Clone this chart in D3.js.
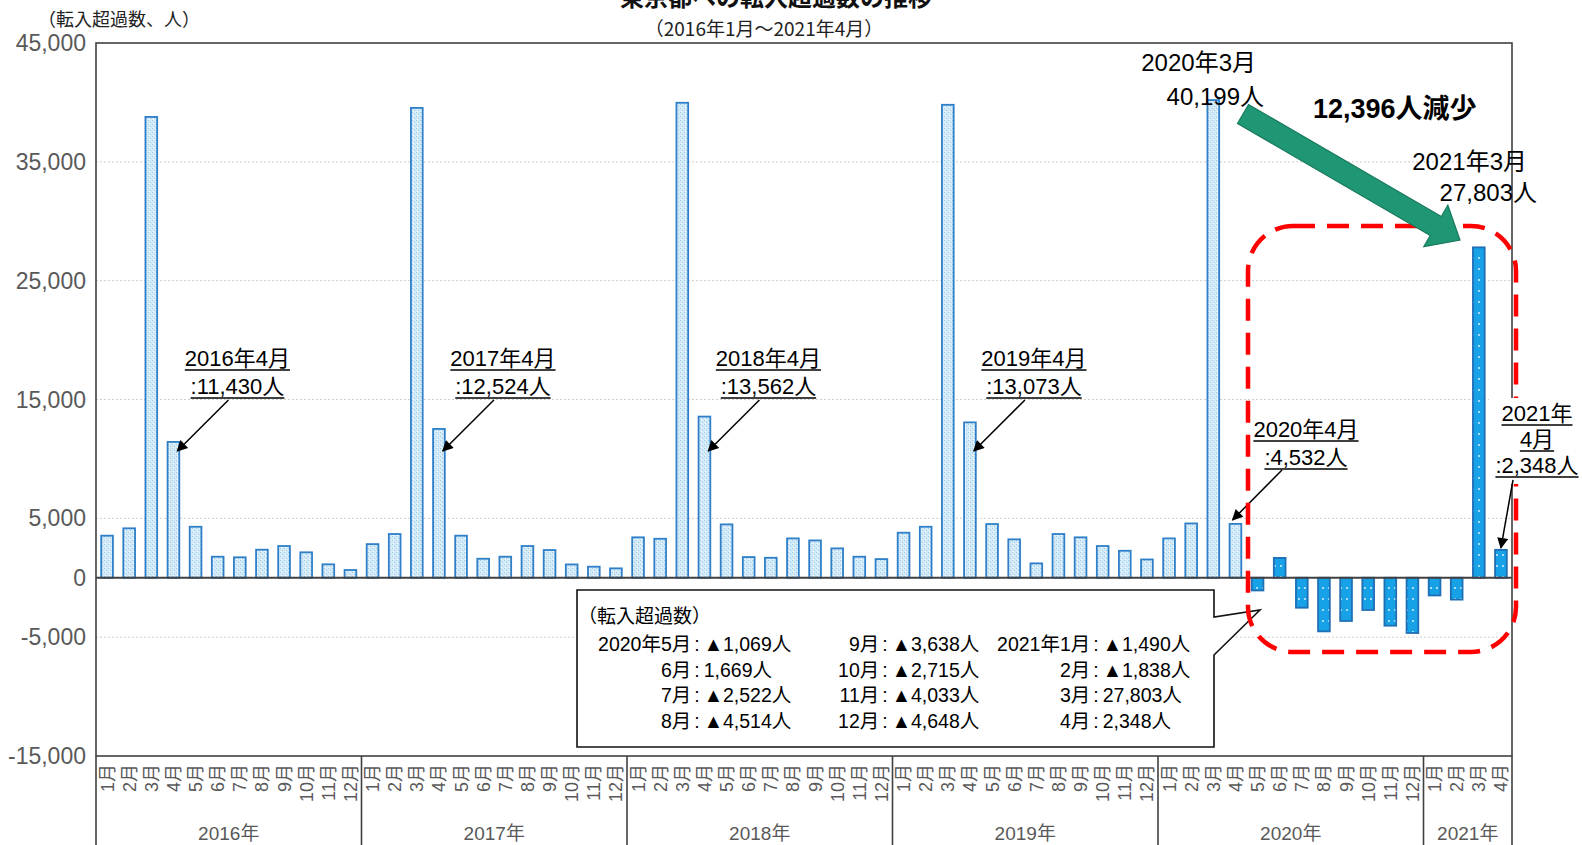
<!DOCTYPE html>
<html><head><meta charset="utf-8">
<script src="https://cdn.jsdelivr.net/npm/d3@7"></script>
<style>
html,body{margin:0;padding:0;background:#fff;}
svg{display:block;}
</style></head><body>
<svg id="chart" width="1582" height="845"></svg>
<script>
// ---------------- DATA ----------------
const years = ["2016年","2017年","2018年","2019年","2020年","2021年"];
const monthsPerYear = [12,12,12,12,12,4];
const monthNames = ["1月","2月","3月","4月","5月","6月","7月","8月","9月","10月","11月","12月"];
const values2016 = [3540, 4160, 38780, 11430, 4290, 1770, 1720, 2360, 2670, 2140, 1130, 650];
const values2017 = [2830, 3680, 39540, 12524, 3540, 1600, 1770, 2670, 2330, 1120, 930, 790];
const values2018 = [3400, 3280, 39970, 13562, 4490, 1740, 1680, 3310, 3140, 2470, 1770, 1570];
const values2019 = [3790, 4290, 39800, 13073, 4520, 3230, 1210, 3680, 3400, 2670, 2270, 1540];
const values2020 = [3310, 4570, 40199, 4532, -1069, 1669, -2522, -4514, -3638, -2715, -4033, -4648];
const values2021 = [-1490, -1838, 27803, 2348];
const yTicks = [45000, 35000, 25000, 15000, 5000, 0, -5000, -15000];
const gridTicks = [35000, 25000, 15000, 5000, -5000];
const aprilNotes = [
  ["2016年4月", ":11,430人"],
  ["2017年4月", ":12,524人"],
  ["2018年4月", ":13,562人"],
  ["2019年4月", ":13,073人"]
];
const legendTitle = "（転入超過数）";
const legendRows = [
  [["2020年5月","▲1,069人"],["9月","▲3,638人"],["2021年1月","▲1,490人"]],
  [["6月","1,669人"],["10月","▲2,715人"],["2月","▲1,838人"]],
  [["7月","▲2,522人"],["11月","▲4,033人"],["3月","27,803人"]],
  [["8月","▲4,514人"],["12月","▲4,648人"],["4月","2,348人"]]
];

// ---------------- BUILD ----------------
const allValues = [values2016, values2017, values2018, values2019, values2020, values2021];
const data = [];
allValues.forEach((arr, yi) => arr.forEach((v, mi) => data.push({idx: data.length, yi, mi, v})));
const highlightStart = 52; // 2020年5月 onwards

const svg = d3.select("#chart");
const W = 1582, H = 845;
const L = 96, R = 1512, T = 43, B = 756;
const fontLat = "'Liberation Sans', 'Noto Sans CJK JP', sans-serif";
const fontJP = "'Noto Sans CJK JP', sans-serif";
const fmt = d3.formatLocale({decimal: ".", thousands: ",", grouping: [3], currency: ["", ""], minus: "-"}).format(",");

const x = d3.scaleBand().domain(data.map(d => d.idx)).range([L, R]).paddingInner(0.47).paddingOuter(0.235);
const edge = d3.scaleLinear().domain([0, data.length]).range([L, R]);
const y = d3.scaleLinear().domain([-15000, 45000]).range([B, T]);

const defs = svg.append("defs");
const pl = defs.append("pattern").attr("id","pLight").attr("patternUnits","userSpaceOnUse").attr("width",4).attr("height",4);
pl.append("rect").attr("width",4).attr("height",4).attr("fill","#d3eaf8");
pl.append("rect").attr("x",0).attr("y",0).attr("width",1).attr("height",1).attr("fill","#9fcbe9");
pl.append("rect").attr("x",2).attr("y",2).attr("width",1).attr("height",1).attr("fill","#9fcbe9");
pl.append("rect").attr("x",1).attr("y",3).attr("width",1).attr("height",1).attr("fill","#ffffff");
const pd = defs.append("pattern").attr("id","pDark").attr("patternUnits","userSpaceOnUse").attr("width",6).attr("height",11);
pd.append("rect").attr("width",6).attr("height",11).attr("fill","#17a1e6");
pd.append("circle").attr("cx",3).attr("cy",5).attr("r",0.9).attr("fill","#e8f6ff");
const mk = defs.append("marker").attr("id","ah").attr("viewBox","0 0 10 10").attr("refX",9).attr("refY",5)
  .attr("orient","auto").attr("markerUnits","userSpaceOnUse")
  .attr("markerWidth",14).attr("markerHeight",11);
mk.append("path").attr("d","M0,0 L10,5 L0,10 z").attr("fill","#000");

// gridlines
svg.append("g").selectAll("line").data(gridTicks).join("line")
  .attr("x1", L).attr("x2", R).attr("y1", d => y(d)).attr("y2", d => y(d))
  .attr("stroke", "#cfcfcf").attr("stroke-width", 1).attr("stroke-dasharray", "2,2");

// bars
svg.append("g").selectAll("rect").data(data).join("rect")
  .attr("x", d => x(d.idx)).attr("width", x.bandwidth())
  .attr("y", d => y(Math.max(0, d.v))).attr("height", d => Math.abs(y(d.v) - y(0)))
  .attr("fill", d => d.idx >= highlightStart ? "url(#pDark)" : "url(#pLight)")
  .attr("stroke", d => d.idx >= highlightStart ? "#1f6fb5" : "#2e7fc8")
  .attr("stroke-width", 1.8);

// zero line & border
svg.append("line").attr("x1", L).attr("x2", R).attr("y1", y(0)).attr("y2", y(0)).attr("stroke", "#404040").attr("stroke-width", 2);
svg.append("rect").attr("x", L).attr("y", T).attr("width", R - L).attr("height", B - T)
  .attr("fill", "none").attr("stroke", "#404040").attr("stroke-width", 1.6);

// y axis labels
svg.append("g").selectAll("text").data(yTicks).join("text")
  .attr("x", 86).attr("y", d => y(d) + 8).attr("text-anchor", "end")
  .attr("font-family", fontLat).attr("font-size", 23).attr("fill", "#595959")
  .text(d => fmt(d));

// x axis: year separators
let cum = [0];
monthsPerYear.forEach(n => cum.push(cum[cum.length - 1] + n));
svg.append("g").selectAll("line").data(cum).join("line")
  .attr("x1", d => edge(d)).attr("x2", d => edge(d)).attr("y1", B).attr("y2", H)
  .attr("stroke", "#404040").attr("stroke-width", 1.6);
svg.append("g").selectAll("text").data(data).join("text")
  .attr("transform", d => `translate(${x(d.idx) + x.bandwidth() / 2 + 6.5},764) rotate(-90)`)
  .attr("text-anchor", "end").attr("font-family", fontLat).attr("font-size", 18).attr("fill", "#595959")
  .text(d => monthNames[d.mi]);
svg.append("g").selectAll("text").data(years).join("text")
  .attr("x", (d, i) => (edge(cum[i]) + edge(cum[i + 1])) / 2).attr("y", 840)
  .attr("text-anchor", "middle").attr("font-family", fontLat).attr("font-size", 19).attr("fill", "#595959")
  .text(d => d);

// titles
svg.append("text").attr("x", 38).attr("y", 26).attr("font-family", fontJP).attr("font-size", 18).attr("fill", "#222").text("（転入超過数、人）");
svg.append("text").attr("x", 776).attr("y", 6).attr("text-anchor", "middle").attr("font-family", fontJP).attr("font-weight", "bold").attr("font-size", 24).attr("fill", "#111").text("東京都への転入超過数の推移");
svg.append("text").attr("x", 764).attr("y", 36).attr("text-anchor", "middle").attr("font-family", fontJP).attr("font-size", 19).attr("fill", "#222").text("（2016年1月～2021年4月）");

// helpers
function underlined(g, cx, by, str, size) {
  const t = g.append("text").attr("x", cx).attr("y", by).attr("text-anchor", "middle")
    .attr("font-family", fontLat).attr("font-size", size).attr("fill", "#000").text(str);
  const w = t.node().getComputedTextLength();
  g.append("line").attr("x1", cx - w / 2).attr("x2", cx + w / 2).attr("y1", by + 4).attr("y2", by + 4)
    .attr("stroke", "#000").attr("stroke-width", 1.3);
}
function arrow(g, x1, y1, x2, y2) {
  g.append("line").attr("x1", x1).attr("y1", y1).attr("x2", x2).attr("y2", y2)
    .attr("stroke", "#000").attr("stroke-width", 1.5).attr("marker-end", "url(#ah)");
}

// callout legend box
const cb = svg.append("g");
const bx0 = 577, bx1 = 1214, by0 = 590, by1 = 747;
cb.append("path").attr("d", `M${bx0},${by0} L${bx1},${by0} L${bx1},617 L1260,610 L${bx1},655 L${bx1},${by1} L${bx0},${by1} Z`)
  .attr("fill", "#fff").attr("stroke", "#111").attr("stroke-width", 1.6);
cb.append("text").attr("x", 578).attr("y", 623).attr("font-family", fontLat).attr("font-size", 19).text(legendTitle);
const colColon = [697, 885, 1096];
legendRows.forEach((row, ri) => {
  const by = 651 + ri * 25.5;
  row.forEach((cell, ci) => {
    const t = cb.append("text").attr("y", by).attr("font-family", fontLat).attr("font-size", 19.5);
    const s1 = t.append("tspan").text(cell[0]);
    const s2 = t.append("tspan").attr("dx", 3).text(":");
    t.append("tspan").attr("dx", 4).text(cell[1]);
    const w1 = s1.node().getComputedTextLength();
    const w2 = s2.node().getComputedTextLength();
    t.attr("x", colColon[ci] - w1 - 3 - w2 / 2);
  });
});

// April annotations 2016-2019
const ann = svg.append("g");
aprilNotes.forEach((n, i) => {
  const d = data[i * 12 + 3];
  const cx = x(d.idx) + x.bandwidth() / 2 + 64;
  underlined(ann, cx, 366, n[0], 22);
  underlined(ann, cx, 394, n[1], 22);
  arrow(ann, cx - 9, 400, x(d.idx) + x.bandwidth() - 2, 451);
});
// 2020年4月
{
  const d = data[51];
  const cx = 1306;
  underlined(ann, cx, 437, "2020年4月", 22);
  underlined(ann, cx, 465, ":4,532人", 22);
  arrow(ann, 1282, 470, x(d.idx) + 3, y(d.v) - 4);
}

// red dashed highlight
svg.append("rect").attr("x", 1248).attr("y", 226).attr("width", 268).attr("height", 426).attr("rx", 45).attr("ry", 45)
  .attr("fill", "none").attr("stroke", "#ff0000").attr("stroke-width", 4.5).attr("stroke-dasharray", "22,12");

// 2021年4月 annotation (white box)
{
  const g = svg.append("g");
  g.append("rect").attr("x", 1489).attr("y", 398).attr("width", 93).attr("height", 86).attr("fill", "#fff");
  underlined(g, 1537, 421, "2021年", 22);
  underlined(g, 1537, 447, "4月", 22);
  underlined(g, 1537, 473, ":2,348人", 22);
  const d = data[63];
  arrow(g, 1513, 480, x(d.idx) + x.bandwidth() / 2, y(d.v) - 2);
}

// March labels
const big = svg.append("g").attr("font-family", fontLat).attr("font-size", 24).attr("fill", "#000");
big.append("text").attr("x", 1256).attr("y", 71).attr("text-anchor", "end").text("2020年3月");
big.append("text").attr("x", 1264).attr("y", 105).attr("text-anchor", "end").text("40,199人");
big.append("text").attr("x", 1527).attr("y", 170).attr("text-anchor", "end").text("2021年3月");
big.append("text").attr("x", 1537).attr("y", 201).attr("text-anchor", "end").text("27,803人");

// green block arrow
{
  const tx = 1243, ty = 114, px = 1460, py = 240;
  const len = Math.hypot(px - tx, py - ty);
  const ux = (px - tx) / len, uy = (py - ty) / len, nx = -uy, ny = ux;
  const sw = 11, hw = 24, hl = 28;
  const bxp = px - ux * hl, byp = py - uy * hl;
  const pts = [
    [tx + nx * sw, ty + ny * sw], [bxp + nx * sw, byp + ny * sw], [bxp + nx * hw, byp + ny * hw],
    [px, py],
    [bxp - nx * hw, byp - ny * hw], [bxp - nx * sw, byp - ny * sw], [tx - nx * sw, ty - ny * sw]
  ];
  svg.append("polygon").attr("points", pts.map(p => p.join(",")).join(" "))
    .attr("fill", "#1f9674").attr("stroke", "#187a5d").attr("stroke-width", 1.2);
}
svg.append("text").attr("x", 1313).attr("y", 118).attr("font-family", fontLat).attr("font-weight", "bold")
  .attr("font-size", 27).attr("fill", "#000").text("12,396人減少");
</script>
</body></html>
